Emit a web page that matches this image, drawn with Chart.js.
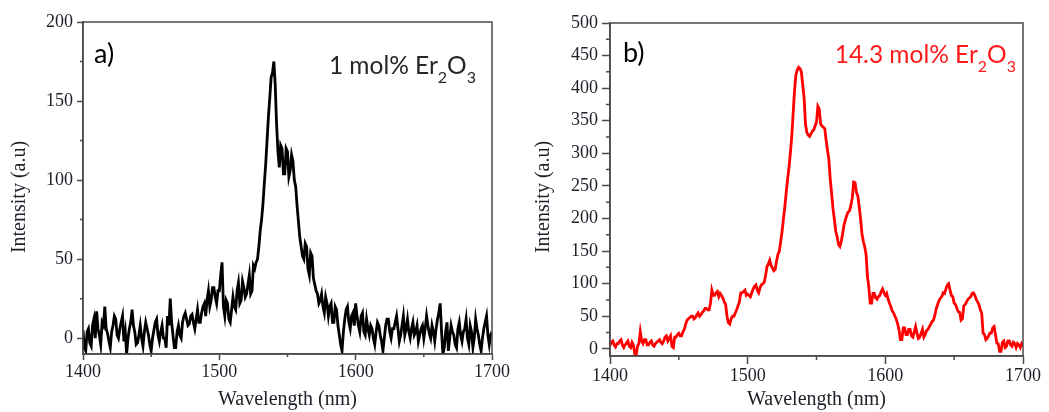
<!DOCTYPE html>
<html>
<head>
<meta charset="utf-8">
<title>Er2O3 emission spectra</title>
<script src="https://cdn.jsdelivr.net/npm/chart.js"></script>
<style>
    body { margin: 0; background: #fff; overflow: hidden; }
    .panel { position: absolute; top: 0; }
    #panelA { left: 0; }
    #panelB { left: 520px; }
</style>
</head>
<body>
<canvas id="panelA" class="panel" width="520" height="412"></canvas>
<canvas id="panelB" class="panel" width="529" height="412"></canvas>
<script>
// wavelength grid: 1400..1700 nm, one reading per nm
const wlStart = 1400;
const wlStep = 1;

// a) 1 mol% Er2O3 (rows of 10 nm)
const intensityA = [
    5, -6, -8, 4, 6, -3, -5, 8, 12, 0,
    17, 6, 2, -4, 10, 8, 20, 6, 3, -2,
    -6, 4, 8, 14, 12, 2, 0, 6, 10, 14,
    -2, 4, -10, 0, 6, 10, 18, 8, 4, -4,
    -3, 2, 8, 0, -5, 4, 10, 6, 2, -4,
    -8, 0, 5, 10, 12, 2, -2, 4, 8, 0,
    0, -6, 14, 8, 25, 10, 2, -6, -6, 4,
    8, 2, 0, 10, 14, 16, 12, 8, 9, 14,
    15, 10, 6, 12, 18, 10, 10, 16, 20, 22,
    14, 24, 30, 20, 24, 32, 32, 26, 22, 30,
    30, 40, 48, 20, 14, 24, 22, 12, 10, 18,
    26, 20, 18, 30, 35, 22, 24, 36, 32, 26,
    28, 34, 40, 28, 30, 46, 44, 48, 50, 58,
    68, 75, 85, 98, 110, 125, 140, 152, 165, 168,
    175, 160, 135, 118, 108, 122, 120, 104, 104, 120,
    118, 102, 106, 116, 112, 100, 96, 84, 74, 64,
    58, 52, 50, 60, 58, 44, 40, 54, 52, 38,
    34, 30, 28, 22, 24, 28, 20, 16, 26, 22,
    14, 20, 22, 10, 10, 20, 18, 8, 2, -4,
    -8, 4, 12, 18, 20, 10, 6, 14, 16, 8,
    22, 14, 8, 4, 14, 16, 4, 2, 12, 6,
    2, 8, 6, 0, -4, 4, 10, 8, 2, -2,
    -8, 0, 8, 12, 12, 4, 0, 6, 6, 10,
    14, 6, -2, 2, 8, 14, 2, 6, 12, 4,
    0, 6, 10, 2, 4, 8, -2, 2, 6, 8,
    0, 6, 14, 8, 3, 0, 8, 4, -2, 6,
    12, 16, 22, 4, -10, -6, 4, 10, -8, 0,
    8, 4, 2, -4, -6, 6, 10, 2, -2, 4,
    6, 12, 0, -4, 8, 4, -6, 0, 12, 6,
    2, -4, -8, 0, 6, 10, 14, 2, -4, 2,
    4
];

// b) 14.3 mol% Er2O3
const intensityB = [
    5, 10, 12, 6, 3, 8, 8, 12, 14, 6,
    2, 6, 9, 12, 4, 2, 10, 6, -8, -10,
    4, 8, 26, 12, 8, 14, 14, 6, 6, 10,
    12, 6, 4, 8, 10, 12, 14, 10, 8, 12,
    18, 20, 12, 16, 20, 4, 2, 18, 18, 22,
    24, 20, 20, 26, 30, 38, 44, 46, 48, 50,
    50, 46, 48, 52, 55, 50, 52, 56, 58, 62,
    62, 60, 60, 70, 90, 82, 82, 86, 88, 80,
    85, 82, 78, 72, 68, 50, 40, 38, 46, 50,
    50, 55, 60, 66, 72, 86, 86, 88, 90, 82,
    84, 82, 80, 86, 92, 96, 98, 90, 86, 94,
    98, 100, 102, 112, 126, 130, 136, 128, 124, 120,
    122, 135, 145, 150, 165, 180, 200, 218, 240, 260,
    278, 300, 325, 360, 395, 420, 428, 432, 430, 425,
    405, 385, 345, 332, 328, 326, 330, 334, 336, 342,
    348, 372, 368, 345, 342, 340, 338, 320, 305, 290,
    260, 238, 215, 198, 180, 172, 160, 157, 165, 177,
    190, 198, 205, 210, 212, 220, 232, 256, 255, 240,
    235, 218, 200, 177, 165, 157, 145, 111, 95, 70,
    70, 85, 85, 78, 76, 80, 82, 88, 92, 86,
    82, 85, 76, 70, 65, 58, 55, 50, 45, 38,
    28, 14, 14, 32, 32, 22, 22, 30, 30, 20,
    18, 26, 34, 24, 16, 18, 24, 30, 18, 22,
    28, 30, 34, 38, 42, 44, 52, 62, 68, 74,
    78, 80, 86, 85, 92, 98, 100, 90, 82, 80,
    70, 68, 62, 57, 56, 44, 46, 66, 68, 72,
    76, 78, 80, 85, 86, 82, 76, 72, 68, 60,
    55, 24, 22, 14, 16, 20, 24, 24, 32, 34,
    22, 9, 8, -4, -4, 10, 12, 2, 4, 12,
    12, 6, 4, 10, 8, 2, 8, 6, 2, 8,
    4
];

const xTicks = [1400, 1500, 1600, 1700];
const xMinor = [1450, 1550, 1650];
const yTicksA = [0, 50, 100, 150, 200];
const yMinorA = [25, 75, 125, 175];
const yTicksB = [0, 50, 100, 150, 200, 250, 300, 350, 400, 450, 500];
const yMinorB = [25, 75, 125, 175, 225, 275, 325, 375, 425, 475];

const wavelengths = intensityA.map((_, i) => wlStart + i * wlStep);

const axisColor = '#4a4a4a';
const textColor = '#1e1e28';
const serif = '"Liberation Serif", "Times New Roman", serif';
const sans = 'Lato, "Open Sans", sans-serif';

// frame on all four sides, minor ticks, y title, panel letter and sample label
const decorPlugin = {
    id: 'decor',
    afterDraw(chart, args, o) {
        const { ctx, chartArea: a, scales: { x, y } } = chart;
        ctx.save();
        ctx.strokeStyle = axisColor;
        ctx.lineWidth = 1.5;
        ctx.strokeRect(a.left, a.top, a.right - a.left, a.bottom - a.top);
        ctx.beginPath();
        xMinor.forEach(v => {
            const px = x.getPixelForValue(v);
            ctx.moveTo(px, a.bottom);
            ctx.lineTo(px, a.bottom + o.minorLen);
        });
        o.minorY.forEach(v => {
            const py = y.getPixelForValue(v);
            ctx.moveTo(a.left, py);
            ctx.lineTo(a.left - o.minorLen, py);
        });
        ctx.stroke();

        // y axis title, sits a bit below the axis centre like the original
        ctx.save();
        ctx.translate(o.yTitleX, o.yTitleY);
        ctx.rotate(-Math.PI / 2);
        ctx.fillStyle = textColor;
        ctx.font = '20px ' + serif;
        ctx.textAlign = 'center';
        ctx.textBaseline = 'middle';
        ctx.fillText('Intensity (a.u)', 0, 0);
        ctx.restore();

        ctx.fillStyle = '#000';
        ctx.textBaseline = 'alphabetic';
        ctx.textAlign = 'left';
        ctx.font = '27px ' + sans;
        ctx.fillText(o.panel, o.panelX, o.panelY);

        // label with subscripts, right edge fixed
        const big = '24.5px ' + sans, small = '16px ' + sans;
        const parts = [[o.label, false], ['2', true], ['O', false], ['3', true]];
        let w = 0;
        parts.forEach(p => { ctx.font = p[1] ? small : big; w += ctx.measureText(p[0]).width; });
        let cx = o.labelRight - w;
        ctx.fillStyle = o.labelColor;
        parts.forEach(p => {
            ctx.font = p[1] ? small : big;
            ctx.fillText(p[0], cx, p[1] ? o.labelY + 9 : o.labelY);
            cx += ctx.measureText(p[0]).width;
        });
        ctx.restore();
    }
};

function spectrumChart(id, cfg) {
    return new Chart(document.getElementById(id), {
        type: 'line',
        data: {
            datasets: [{
                data: cfg.values.map((v, i) => ({ x: wavelengths[i], y: v })),
                borderColor: cfg.color,
                borderWidth: 2.8,
                pointRadius: 0,
                tension: 0
            }]
        },
        options: {
            responsive: false,
            animation: false,
            layout: { padding: { top: cfg.top, right: cfg.right, left: 0, bottom: 0 } },
            plugins: {
                legend: { display: false },
                tooltip: { enabled: false },
                decor: cfg.decor
            },
            scales: {
                x: {
                    type: 'linear',
                    min: 1400,
                    max: 1700,
                    afterBuildTicks: s => { s.ticks = xTicks.map(v => ({ value: v })); },
                    afterFit: s => { s.height = cfg.xAxisH; },
                    grid: { drawOnChartArea: false, tickLength: cfg.tick, tickColor: axisColor, tickWidth: 1.5 },
                    border: { color: axisColor, width: 1.5 },
                    ticks: { font: { family: serif, size: 18 }, color: textColor, padding: 1, maxRotation: 0, autoSkip: false, callback: v => String(v) },
                    title: { display: true, text: 'Wavelength (nm)', font: { family: serif, size: 20 }, color: textColor, padding: { top: 0, bottom: 0 } }
                },
                y: {
                    min: cfg.yMin,
                    max: cfg.yMax,
                    afterBuildTicks: s => { s.ticks = cfg.yTicks.map(v => ({ value: v })); },
                    afterFit: s => { s.width = cfg.yAxisW; },
                    grid: { drawOnChartArea: false, tickLength: cfg.tick, tickColor: axisColor, tickWidth: 1.5 },
                    border: { color: axisColor, width: 1.5 },
                    ticks: { font: { family: serif, size: 18 }, color: textColor, padding: 4, autoSkip: false, callback: v => String(v) }
                }
            }
        },
        plugins: [decorPlugin]
    });
}

spectrumChart('panelA', {
    values: intensityA, color: '#000000',
    yMin: -10, yMax: 200, yTicks: yTicksA,
    top: 22, right: 28, xAxisH: 58, yAxisW: 83, tick: 6,
    decor: {
        minorY: yMinorA, minorLen: 3, yTitleX: 20, yTitleY: 197,
        panel: 'a)', panelX: 94, panelY: 63,
        label: '1 mol% Er', labelRight: 476, labelY: 74, labelColor: '#262626'
    }
});

spectrumChart('panelB', {
    values: intensityB, color: '#ff0000',
    yMin: -11, yMax: 500, yTicks: yTicksB,
    top: 23, right: 26, xAxisH: 56, yAxisW: 90, tick: 8,
    decor: {
        minorY: yMinorB, minorLen: 4, yTitleX: 24, yTitleY: 197,
        panel: 'b)', panelX: 103, panelY: 62,
        label: '14.3 mol% Er', labelRight: 496, labelY: 63, labelColor: '#ff1a1a'
    }
});
</script>
</body>
</html>
